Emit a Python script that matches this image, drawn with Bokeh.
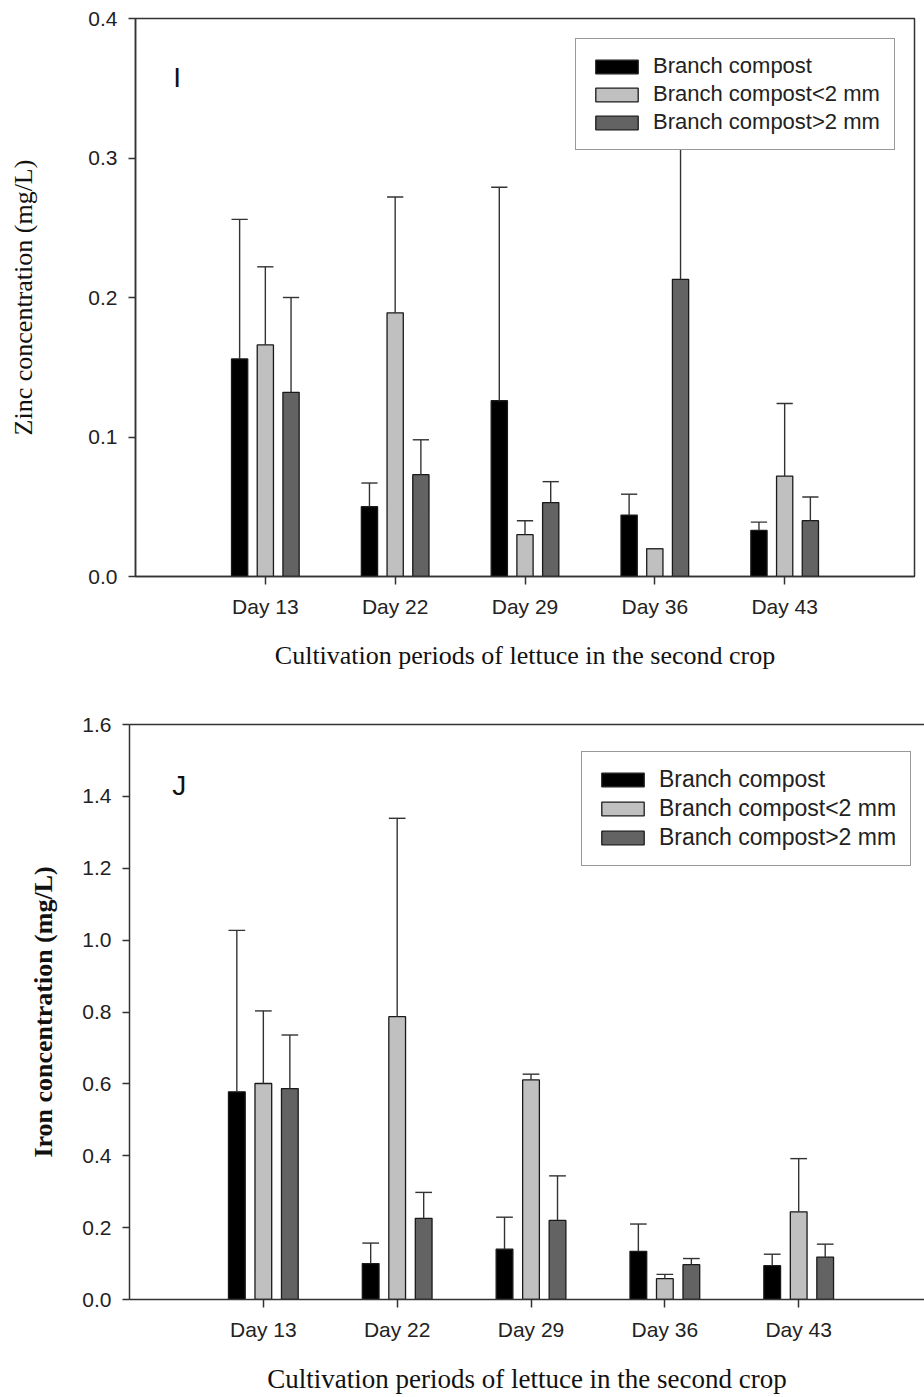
import numpy as np
from bokeh.plotting import figure
from bokeh.models import (ColumnDataSource, FixedTicker, PrintfTickFormatter, Range1d,
                          Legend, LegendItem, LinearAxis, Label)
from bokeh.embed import file_html
from bokeh.resources import INLINE

# ---------------- data ----------------
days = ["Day 13", "Day 22", "Day 29", "Day 36", "Day 43"]
series = ["Branch compost", "Branch compost<2 mm", "Branch compost>2 mm"]

zinc_bc = [0.156, 0.050, 0.126, 0.044, 0.033]
zinc_bc_sd = [0.100, 0.017, 0.153, 0.015, 0.006]
zinc_lt2 = [0.166, 0.189, 0.030, 0.020, 0.072]
zinc_lt2_sd = [0.056, 0.083, 0.010, 0.000, 0.052]
zinc_gt2 = [0.132, 0.073, 0.053, 0.213, 0.040]
zinc_gt2_sd = [0.068, 0.025, 0.015, 0.120, 0.017]

iron_bc = [0.578, 0.100, 0.140, 0.134, 0.094]
iron_bc_sd = [0.449, 0.057, 0.089, 0.076, 0.032]
iron_lt2 = [0.601, 0.787, 0.611, 0.058, 0.244]
iron_lt2_sd = [0.202, 0.552, 0.016, 0.012, 0.148]
iron_gt2 = [0.587, 0.226, 0.220, 0.097, 0.118]
iron_gt2_sd = [0.149, 0.072, 0.124, 0.017, 0.036]

zinc_ticks = [0.0, 0.1, 0.2, 0.3, 0.4]
iron_ticks = [0.0, 0.2, 0.4, 0.6, 0.8, 1.0, 1.2, 1.4, 1.6]

# ---------------- style ----------------
colors = ["#000000", "#c0c0c0", "#636363"]
AX = "#333333"
SANS = "Liberation Sans"
SERIF = "Liberation Serif"
OFFSET = 0.198
BAR_W = 0.125


def make_panel(means, sds, ticks, ylabel, ylabel_style, letter, letter_xy,
               width, height, mb_left, mb_right, mb_top, mb_bottom, x_end,
               legend_loc, legend_font, legend_pad, full_outline,
               xlab_standoff, ylab_standoff, xlab_size):
    p = figure(width=width, height=height, output_backend="svg", toolbar_location=None,
               x_range=Range1d(-1.0, x_end), y_range=Range1d(ticks[0], ticks[-1]),
               min_border_left=mb_left, min_border_right=mb_right,
               min_border_top=mb_top, min_border_bottom=mb_bottom)
    p.grid.visible = False
    p.background_fill_color = "white"
    p.border_fill_color = "white"

    xi = np.arange(len(days))
    items = []
    for k in range(3):
        xs = xi + (k - 1) * OFFSET
        m = np.array(means[k])
        s = np.array(sds[k])
        src = ColumnDataSource(dict(x=xs, top=m, up=m + s,
                                    x0=xs - BAR_W / 2, x1=xs + BAR_W / 2))
        r = p.vbar(x="x", top="top", bottom=0, width=BAR_W, source=src,
                   fill_color=colors[k], line_color="#1a1a1a", line_width=1.3)
        p.segment(x0="x", y0="top", x1="x", y1="up", source=src, line_color=AX, line_width=1.4)
        p.segment(x0="x0", y0="up", x1="x1", y1="up", source=src, line_color=AX, line_width=1.4)
        items.append(LegendItem(label=series[k], renderers=[r]))

    xax = p.below[0]
    yax = p.left[0]
    xax.ticker = FixedTicker(ticks=list(range(len(days))))
    xax.major_label_overrides = {i: d for i, d in enumerate(days)}
    yax.ticker = FixedTicker(ticks=ticks)
    yax.formatter = PrintfTickFormatter(format="%.1f")
    for ax in (xax, yax):
        ax.axis_line_color = AX
        ax.axis_line_width = 1.5
        ax.major_tick_line_color = AX
        ax.major_tick_line_width = 1.5
        ax.major_tick_in = 0
        ax.minor_tick_line_color = None
        ax.major_label_text_font = SANS
        ax.major_label_text_font_size = "21px"
        ax.major_label_text_color = "#222222"
        ax.axis_label_text_font = SERIF
        ax.axis_label_text_color = "#111111"
    xax.major_tick_out = 8
    xax.major_label_standoff = 10
    yax.major_tick_out = 7
    yax.major_label_standoff = 11
    xax.axis_label = "Cultivation periods of lettuce in the second crop"
    xax.axis_label_text_font_size = xlab_size
    xax.axis_label_text_font_style = "normal"
    xax.axis_label_standoff = xlab_standoff
    yax.axis_label = ylabel
    yax.axis_label_text_font_size = "26px"
    yax.axis_label_text_font_style = ylabel_style
    yax.axis_label_standoff = ylab_standoff

    if full_outline:
        p.outline_line_color = AX
        p.outline_line_width = 1.5
    else:
        p.outline_line_color = None
        top = LinearAxis(ticker=FixedTicker(ticks=[]), axis_line_color=AX, axis_line_width=1.5,
                         major_tick_out=0, major_tick_in=0, minor_tick_out=0, minor_tick_in=0,
                         major_label_standoff=0)
        p.add_layout(top, "above")

    p.add_layout(Label(x=letter_xy[0], y=letter_xy[1], text=letter, text_font=SANS,
                       text_font_size="28px", text_color="#111111",
                       text_align="left", text_baseline="alphabetic"))

    leg = Legend(items=items, location=legend_loc, orientation="vertical",
                 label_text_font=SANS, label_text_font_size=legend_font,
                 label_text_color="#222222",
                 glyph_width=53, glyph_height=17, label_height=26, spacing=2,
                 label_standoff=10, padding=legend_pad, margin=0,
                 border_line_color=AX, border_line_width=1.5,
                 background_fill_color="white", background_fill_alpha=1.0)
    p.add_layout(leg)
    return p


p1 = make_panel([zinc_bc, zinc_lt2, zinc_gt2], [zinc_bc_sd, zinc_lt2_sd, zinc_gt2_sd],
                zinc_ticks, "Zinc concentration (mg/L)", "normal", "I", (-0.71, 0.358),
                width=924, height=690, mb_left=135, mb_right=10, mb_top=18, mb_bottom=114,
                x_end=5.0, legend_loc=(440, 426), legend_font="22px", legend_pad=14,
                full_outline=True, xlab_standoff=20, ylab_standoff=47, xlab_size="26px")

p2 = make_panel([iron_bc, iron_lt2, iron_gt2], [iron_bc_sd, iron_lt2_sd, iron_gt2_sd],
                iron_ticks, "Iron concentration (mg/L)", "bold", "J", (-0.68, 1.431),
                width=924, height=706, mb_left=129, mb_right=0, mb_top=34, mb_bottom=94,
                x_end=4.94, legend_loc=(452, 433), legend_font="23px", legend_pad=14,
                full_outline=False, xlab_standoff=20, ylab_standoff=21, xlab_size="27px")

open("out.html", "w").write(file_html([p1, p2], INLINE))
